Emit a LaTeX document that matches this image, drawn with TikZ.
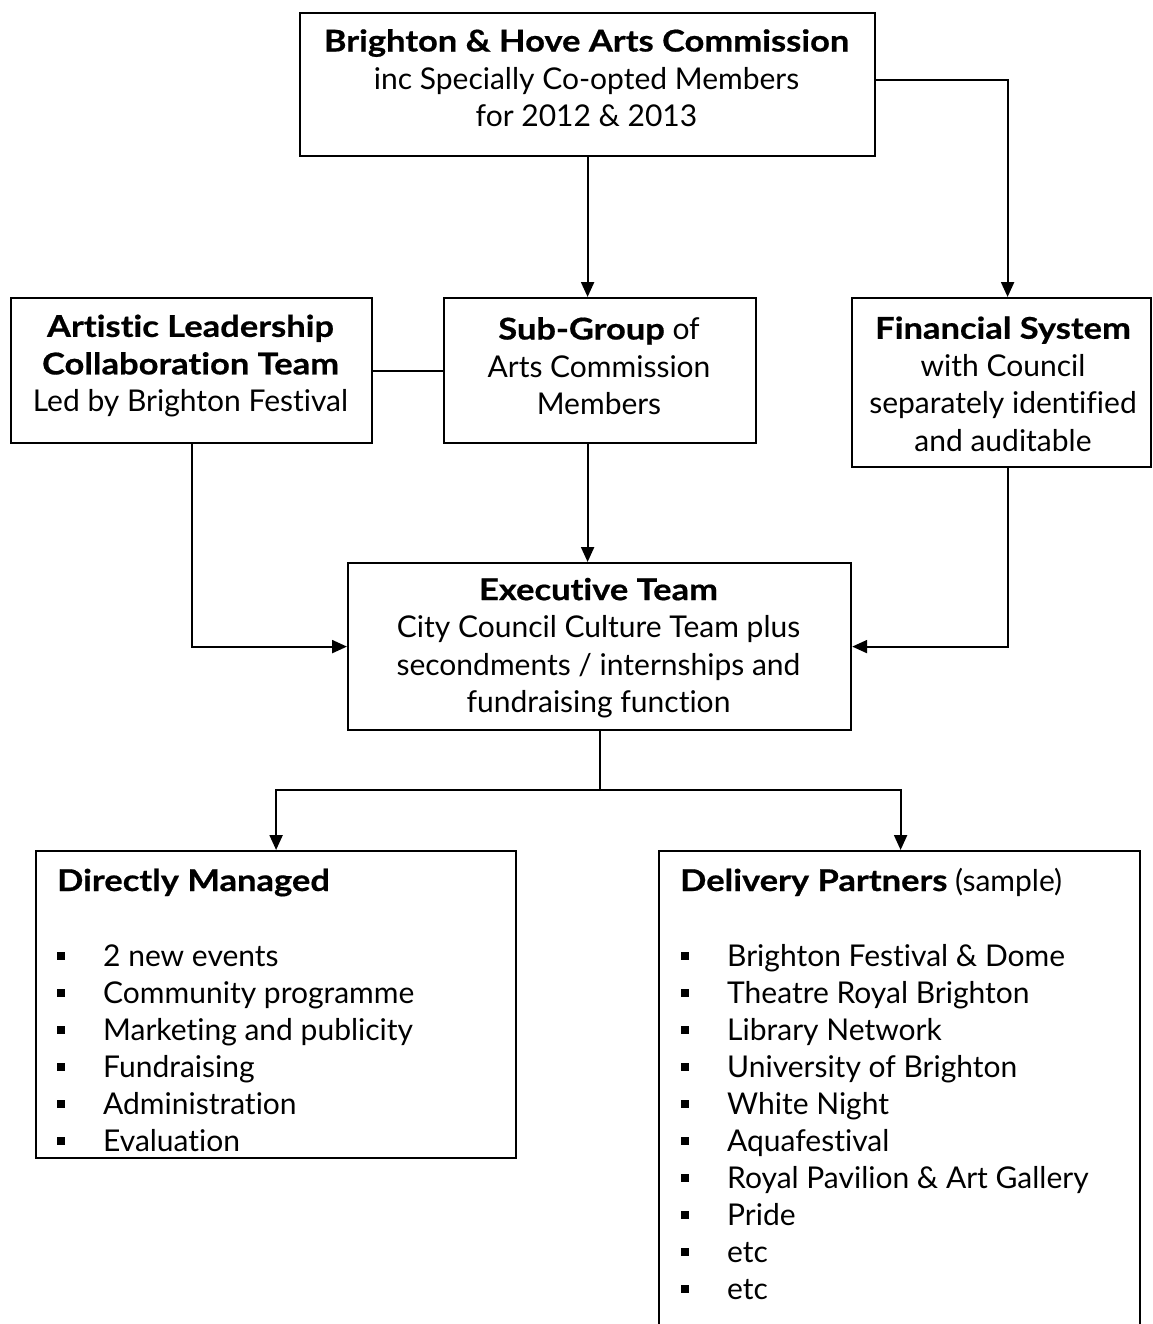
\documentclass[tikz,border=0pt]{standalone}
\usepackage{fontspec}
\setmainfont{Lato}[Ligatures={NoCommon},BoldFeatures={FakeStretch=1.15,FakeBold=0.6}]
\usetikzlibrary{arrows.meta}
\begin{document}
\begin{tikzpicture}[x=1pt,y=-1pt,
  frame/.style={draw,line width=2.2pt,inner sep=0pt,anchor=north west},
  txt/.style={font={\fontsize{30}{37.5}\selectfont},align=center,inner sep=0pt},
  itm/.style={font={\fontsize{30}{37}\selectfont},anchor=base west,inner sep=0pt},
  conn/.style={line width=2.2pt},
  arr/.style={line width=2.2pt,-{Triangle[length=15pt,width=13pt]}}]
\useasboundingbox (0,0) rectangle (1152,1324);
\clip (0,0) rectangle (1152,1324);
% boxes
\node[frame,minimum width=575pt,minimum height=143pt] (top) at (299,12) {};
\node[frame,minimum width=361pt,minimum height=145pt] (art) at (10,297) {};
\node[frame,minimum width=312pt,minimum height=145pt] (sub) at (443,297) {};
\node[frame,minimum width=299pt,minimum height=169pt] (fin) at (851,297) {};
\node[frame,minimum width=503pt,minimum height=167pt] (exe) at (347,562) {};
\node[frame,minimum width=480pt,minimum height=307pt] (dm) at (35,850) {};
\node[frame,minimum width=481pt,minimum height=520pt] (dp) at (658,850) {};
% texts
\node[txt] (toptxt) at (586.5,78) {\textbf{Brighton \& Hove Arts Commission}\\inc Specially Co-opted Members\\for 2012 \& 2013};
\node[txt] (arttxt) at (190.5,366) {\textbf{Artistic Leadership}\\\textbf{Collaboration Team}\\Led by Brighton Festival};
\node[txt] (subtxt) at (599,366) {\textbf{Sub-Group} of\\Arts Commission\\Members};
\node[txt] (fintxt) at (1003,384) {\textbf{Financial System}\\with Council\\separately identified\\and auditable};
\node[txt] (exetxt) at (598.5,648) {\textbf{Executive Team}\\City Council Culture Team plus\\secondments / internships and\\fundraising function};
\node[itm] (dmhead) at (57,891) {\textbf{Directly Managed}};
\node[itm] (dphead) at (680,891) {\textbf{Delivery Partners} (sample)};
\foreach \t [count=\i from 0] in {2 new events,Community programme,Marketing and publicity,Fundraising,Administration,Evaluation}{
  \fill (57,952+37*\i) rectangle +(7.5,7.5);
  \node[itm] (dmi\i) at (103,966+37*\i) {\t};
}
\foreach \t [count=\i from 0] in {Brighton Festival \& Dome,Theatre Royal Brighton,Library Network,University of Brighton,White Night,Aquafestival,Royal Pavilion \& Art Gallery,Pride,etc,etc}{
  \fill (681,952+37*\i) rectangle +(7.5,7.5);
  \node[itm] (dpi\i) at (727,966+37*\i) {\t};
}
% connectors
\draw[arr] (top.south) -- (top.south |- sub.north);
\draw[arr] (sub.south -| top.south) -- (exe.north -| top.south);
\draw[arr] ([yshift=4.5pt]top.east) -| ([xshift=6pt]fin.north);
\draw[conn] (art.east) -- (sub.west);
\draw[arr] (art.south) |- (exe.west);
\draw[arr] ([xshift=6pt]fin.south) |- (exe.east);
\coordinate (split) at (exe.south |- 0,790);
\draw[arr] (exe.south) -- (split) -| (dm.north);
\draw[arr] (split) -| ([xshift=1pt]dp.north);
\end{tikzpicture}
\end{document}
